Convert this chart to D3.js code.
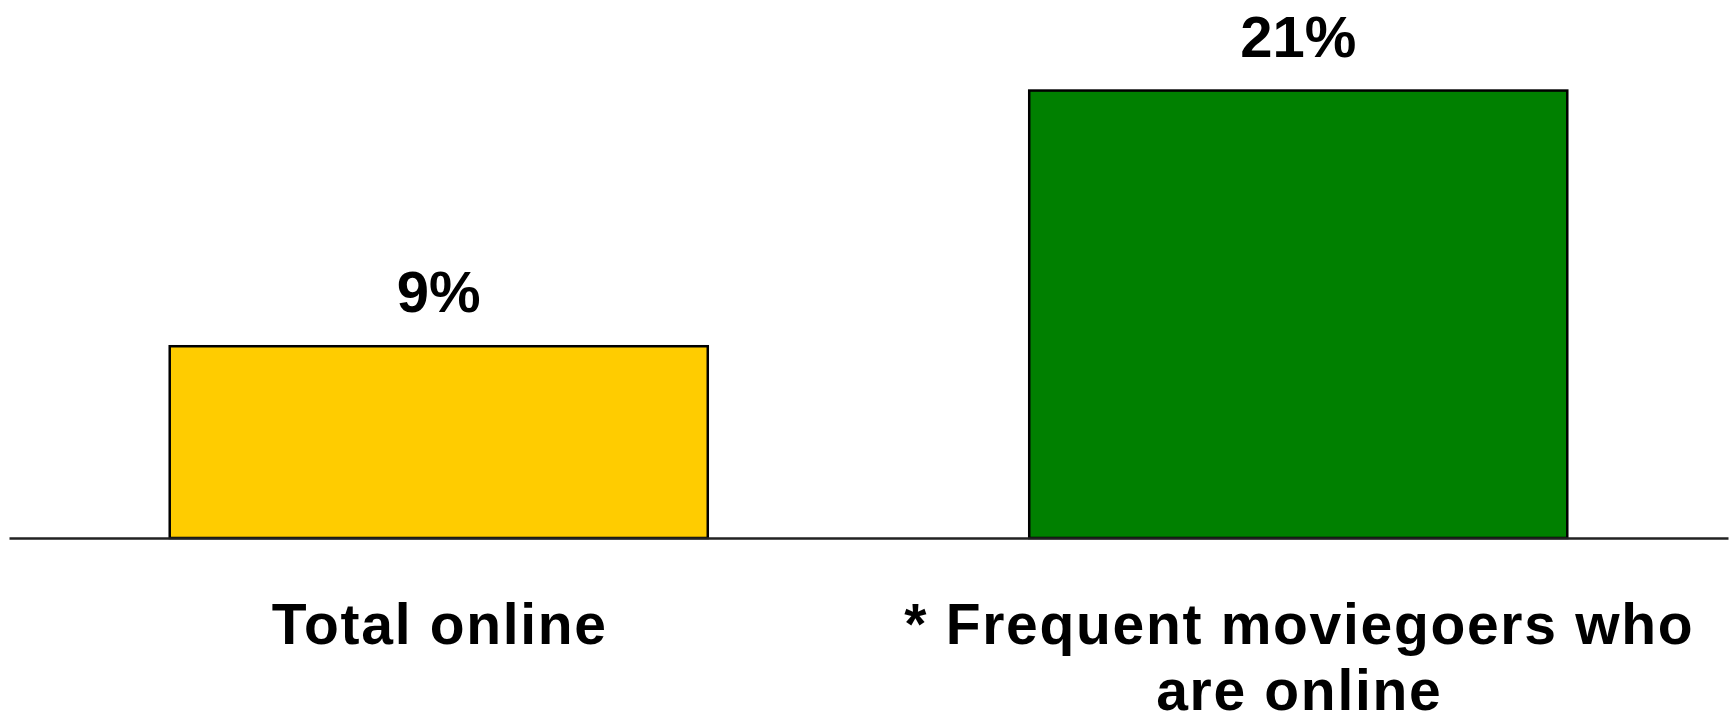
<!DOCTYPE html>
<html>
<head>
<meta charset="utf-8">
<script src="https://cdn.jsdelivr.net/npm/d3@7"></script>
<style>
  html, body { margin: 0; padding: 0; background: #fff; }
  svg { display: block; }
  text { font-family: Arial, "Liberation Sans", sans-serif; font-weight: bold; fill: #000; }
</style>
</head>
<body>
<svg id="chart" width="1730" height="723"></svg>
<script>
const categories = ["Total online", "* Frequent moviegoers who are online"];
const categoryLines = [["Total online"], ["* Frequent moviegoers who", "are online"]];
const values = [9, 21];
const valueLabels = ["9%", "21%"];
const colors = ["#FFCC00", "#008000"];

const svg = d3.select("#chart");
const baseY = 538;

const x = d3.scaleBand()
  .domain(categories)
  .range([9, 1728])
  .paddingInner(0.374)
  .paddingOuter(0.187);

const y = d3.scaleLinear()
  .domain([0, 25.25])
  .range([baseY, 0]);

// bars
svg.selectAll("rect.bar")
  .data(values)
  .join("rect")
  .attr("class", "bar")
  .attr("x", (d, i) => x(categories[i]))
  .attr("y", d => y(d))
  .attr("width", x.bandwidth())
  .attr("height", d => baseY - y(d))
  .attr("fill", (d, i) => colors[i])
  .attr("stroke", "#000")
  .attr("stroke-width", 2.5);

// baseline axis
const axis = d3.axisBottom(x).tickSize(0).tickFormat("");
svg.append("g")
  .attr("transform", `translate(0,${baseY})`)
  .call(axis)
  .call(g => g.select(".domain").attr("stroke", "#222").attr("stroke-width", 2.5));

// value labels
svg.selectAll("text.val")
  .data(values)
  .join("text")
  .attr("class", "val")
  .attr("x", (d, i) => x(categories[i]) + x.bandwidth() / 2)
  .attr("y", d => y(d) - 34)
  .attr("text-anchor", "middle")
  .attr("font-size", 58)
  .text((d, i) => valueLabels[i]);

// category labels
categories.forEach((c, i) => {
  const cx = x(c) + x.bandwidth() / 2 + 1;
  const t = svg.append("text")
    .attr("class", "cat")
    .attr("text-anchor", "middle")
    .attr("font-size", 57)
    .attr("letter-spacing", 1.7);
  categoryLines[i].forEach((ln, j) => {
    t.append("tspan")
      .attr("x", cx)
      .attr("y", 644 + j * 66)
      .text(ln);
  });
});
</script>
</body>
</html>
